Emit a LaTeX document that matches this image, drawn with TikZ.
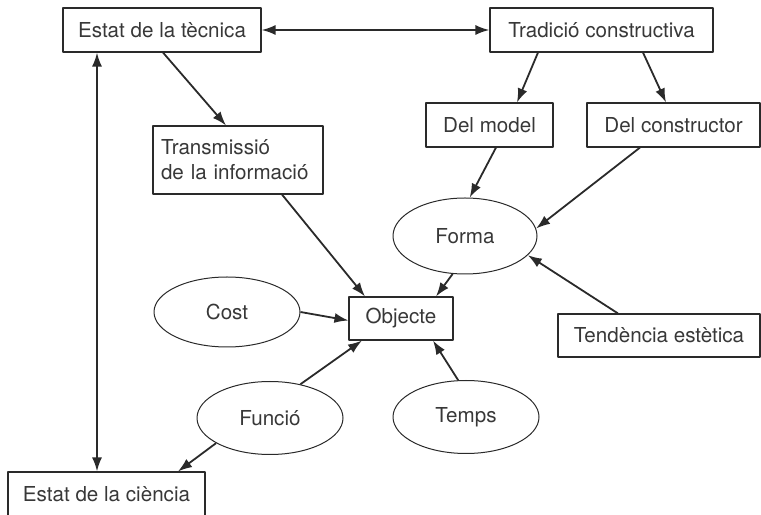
\documentclass[tikz,border=0pt]{standalone}
\usepackage{fontspec}
\setmainfont{TeX Gyre Heros}
\usetikzlibrary{arrows.meta,shapes.geometric}
\definecolor{inkgray}{HTML}{2A2A2A}
\definecolor{textgray}{HTML}{383838}
\tikzset{
  boxnode/.style={draw=inkgray,line width=1.1bp,rectangle,inner sep=0pt,text=textgray,
    font=\fontsize{20.6bp}{25bp}\selectfont},
  ovalnode/.style={draw=inkgray,line width=1bp,ellipse,inner sep=0pt,text=textgray,
    minimum width=146bp,font=\fontsize{20.6bp}{25bp}\selectfont},
  linkline/.style={inkgray,line width=1.8bp},
}
\begin{document}
\begin{tikzpicture}[>={Latex[length=14bp,width=10bp]},line join=bevel,]
%%
\clip (0bp,0bp) rectangle (761bp,515bp);
\node (node_tecnica) at (162.0bp,485.0bp) [boxnode,minimum width=198bp,minimum height=44bp] {Estat de la tècnica};
  \node (node_tradicio) at (601.5bp,485.0bp) [boxnode,minimum width=223bp,minimum height=44bp] {Tradició constructiva};
  \node (node_model) at (489.5bp,390.0bp) [boxnode,minimum width=127bp,minimum height=44bp] {Del model};
  \node (node_constructor) at (673.5bp,390.0bp) [boxnode,minimum width=173bp,minimum height=44bp] {Del constructor};
  \node (node_transmissio) at (238.0bp,355.0bp) [boxnode,text width=154bp,align=left,inner sep=8bp,minimum height=68bp] {Transmissió\\de la informació};
  \node (node_forma) at (465.0bp,279.0bp) [ovalnode,minimum width=144bp,minimum height=76bp] {Forma};
  \node (node_objecte) at (401.0bp,196.5bp) [boxnode,minimum width=104bp,minimum height=43bp] {Objecte};
  \node (node_cost) at (227.0bp,203.0bp) [ovalnode,minimum height=70bp] {Cost};
  \node (node_funcio) at (270.0bp,97.0bp) [ovalnode,minimum height=73bp] {Funció};
  \node (node_temps) at (466.0bp,98.0bp) [ovalnode,minimum height=73bp] {Temps};
  \node (node_tendencia) at (659.0bp,179.5bp) [boxnode,minimum width=202bp,minimum height=43bp] {Tendència estètica};
  \node (node_ciencia) at (106.5bp,20.5bp) [boxnode,minimum width=197bp,minimum height=45bp] {Estat de la ciència};
  \draw [linkline,<->] (node_tecnica.east) -- (node_tradicio.west);
  \draw [linkline,<->] ([xshift=-65bp]node_tecnica.south) -- ([xshift=-9.5bp]node_ciencia.north);
  \draw [linkline,->] ([xshift=1bp]node_tecnica.south) -- ([xshift=-12bp]node_transmissio.north);
  \draw [linkline,->] ([xshift=-63.5bp]node_tradicio.south) -- ([xshift=27.5bp]node_model.north);
  \draw [linkline,->] ([xshift=41.5bp]node_tradicio.south) -- ([xshift=-7.5bp]node_constructor.north);
  \draw [linkline,->] ([xshift=6.5bp]node_model.south) -- (node_forma.83);
  \draw [linkline,->] ([xshift=-33.5bp]node_constructor.south) -- (node_forma.6);
  \draw [linkline,->] ([xshift=44bp]node_transmissio.south) -- ([xshift=-36bp]node_objecte.north);
  \draw [linkline,->] (node_forma.-108) -- ([xshift=35bp]node_objecte.north);
  \draw [linkline,->] (node_cost.east) -- ([yshift=-2bp]node_objecte.west);
  \draw [linkline,->] (node_funcio.48) -- ([xshift=-39bp]node_objecte.south);
  \draw [linkline,->] (node_temps.102) -- ([xshift=32bp]node_objecte.south);
  \draw [linkline,->] ([xshift=-41bp]node_tendencia.north) -- (node_forma.-17);
  \draw [linkline,->] (node_funcio.205) -- ([xshift=71.5bp]node_ciencia.north);
%
\end{tikzpicture}
\end{document}
